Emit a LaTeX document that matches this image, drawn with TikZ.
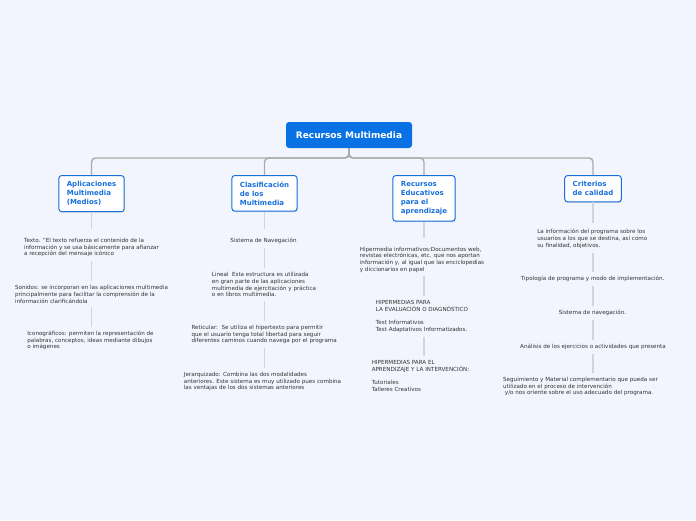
\documentclass[tikz,border=0pt]{standalone}
\usepackage{fontspec}
\setmainfont{DejaVu Sans}
\usetikzlibrary{shadows}
\definecolor{bgc}{RGB}{242,245,253}
\definecolor{rootblue}{RGB}{8,114,229}
\definecolor{childblue}{RGB}{24,112,220}
\definecolor{conngray}{RGB}{170,170,170}
\definecolor{leafline}{RGB}{210,212,216}
\definecolor{leaftext}{RGB}{50,50,50}
\tikzset{
 rootbox/.style={fill=rootblue, text=white, rounded corners=3pt, font=\fontsize{9}{11}\selectfont\bfseries, minimum width=126pt, minimum height=26pt, inner sep=0pt},
 childbox/.style={draw=childblue, line width=1pt, fill=white, text=childblue, rounded corners=3pt, font=\fontsize{7}{9}\selectfont\bfseries, align=left, inner xsep=8pt, inner ysep=6pt, drop shadow={opacity=0.25, shadow xshift=0.6pt, shadow yshift=-1pt}},
 leaf/.style={text=leaftext, font=\fontsize{5.6}{6.7}\selectfont, align=left, inner sep=4pt},
 conn/.style={draw=conngray, line width=1.4pt, rounded corners=4pt},
 leafconn/.style={draw=leafline, line width=1.2pt},
}
\begin{document}
\begin{tikzpicture}[x=1pt,y=-1pt]
\fill[bgc] (0,0) rectangle (696,520);
\useasboundingbox (0,0) rectangle (696,520);

\node[rootbox] (root) at (349,135) {Recursos Multimedia};

\node[childbox, anchor=north] (c1) at (91.5,175) {Aplicaciones\\Multimedia\\(Medios)};
\node[childbox, anchor=north] (c2) at (264.5,175) {Clasificación\\de los\\Multimedia};
\node[childbox, anchor=north] (c3) at (424,175) {Recursos\\Educativos\\para el\\aprendizaje};
\node[childbox, anchor=north] (c4) at (593,175) {Criterios\\de calidad};

\coordinate (hub) at (349,158);
\foreach \c in {c1,c2,c3,c4}{
  \draw[conn] (root.south) -- (hub) -| (\c.north);
}

% column 1
\node[leaf] (l11) at (91.5,247.5) {Texto. "El texto refuerza el contenido de la\\información y se usa básicamente para afianzar\\a recepción del mensaje icónico};
\node[leaf] (l12) at (91.5,294.3) {Sonidos: se incorporan en las aplicaciones multimedia\\principalmente para facilitar la comprensión de la\\información clarificándola};
\node[leaf] (l13) at (90.5,340.5) {Iconográficos: permiten la representación de\\palabras, conceptos, ideas mediante dibujos\\o imágenes};

% column 2
\node[leaf] (l21) at (263.5,240.7) {Sistema de Navegación};
\node[leaf] (l22) at (264,284.7) {Lineal\ \ Esta estructura es utilizada\\en gran parte de las aplicaciones\\multimedia de ejercitación y práctica\\o en libros multimedia.};
\node[leaf] (l23) at (264.2,334.5) {Reticular:\ \ Se utiliza el hipertexto para permitir\\que el usuario tenga total libertad para seguir\\diferentes caminos cuando navega por el programa};
\node[leaf] (l24) at (262.5,381.7) {Jerarquizado: Combina las dos modalidades\\anteriores. Este sistema es muy utilizado pues combina\\las ventajas de los dos sistemas anteriores};

% column 3
\node[leaf] (l31) at (422,259.5) {Hipermedia informativos:Documentos web,\\revistas electrónicas, etc. que nos aportan\\información y, al igual que las enciclopedias\\y diccionarios en papel};
\node[leaf] (l32) at (422,316.3) {HIPERMEDIAS PARA\\LA EVALUACIÓN O DIAGNÓSTICO\\[6.7pt]Test Informativos\\Test Adaptativos Informatizados.};
\node[leaf] (l33) at (420.5,376.2) {HIPERMEDIAS PARA EL\\APRENDIZAJE Y LA INTERVENCIÓN:\\[6.7pt]Tutoriales\\Talleres Creativos};

% column 4
\node[leaf] (l41) at (592.3,239) {La información del programa sobre los\\usuarios a los que se destina, así como\\su finalidad, objetivos.};
\node[leaf] (l42) at (592.7,279.3) {Tipología de programa y modo de implementación.};
\node[leaf] (l43) at (592.5,313.3) {Sistema de navegación.};
\node[leaf] (l44) at (593,346.7) {Análisis de los ejercicios o actividades que presenta};
\node[leaf] (l45) at (580.5,386.7) {Seguimiento y Material complementario que pueda ser\\utilizado en el proceso de intervención\\\ y/o nos oriente sobre el uso adecuado del programa.};

% leaf connectors
\draw[leafconn, shorten >=5pt] (c1.south) -- (c1.south |- l11.north);
\draw[leafconn] (c1.south |- l11.south) -- (c1.south |- l12.north);
\draw[leafconn] (c1.south |- l12.south) -- (c1.south |- l13.north);

\draw[leafconn, shorten >=5pt] (c2.south) -- (c2.south |- l21.north);
\draw[leafconn] (c2.south |- l21.south) -- (c2.south |- l22.north);
\draw[leafconn] (c2.south |- l22.south) -- (c2.south |- l23.north);
\draw[leafconn] (c2.south |- l23.south) -- (c2.south |- l24.north);

\draw[leafconn, shorten >=5pt] (c3.south) -- (c3.south |- l31.north);
\draw[leafconn] (c3.south |- l31.south) -- (c3.south |- l32.north);
\draw[leafconn] (c3.south |- l32.south) -- (c3.south |- l33.north);

\draw[leafconn, shorten >=2pt] (c4.south) -- (c4.south |- l41.north);
\draw[leafconn] (c4.south |- l41.south) -- (c4.south |- l42.north);
\draw[leafconn] (c4.south |- l42.south) -- (c4.south |- l43.north);
\draw[leafconn] (c4.south |- l43.south) -- (c4.south |- l44.north);
\draw[leafconn] (c4.south |- l44.south) -- (c4.south |- l45.north);
\end{tikzpicture}
\end{document}
